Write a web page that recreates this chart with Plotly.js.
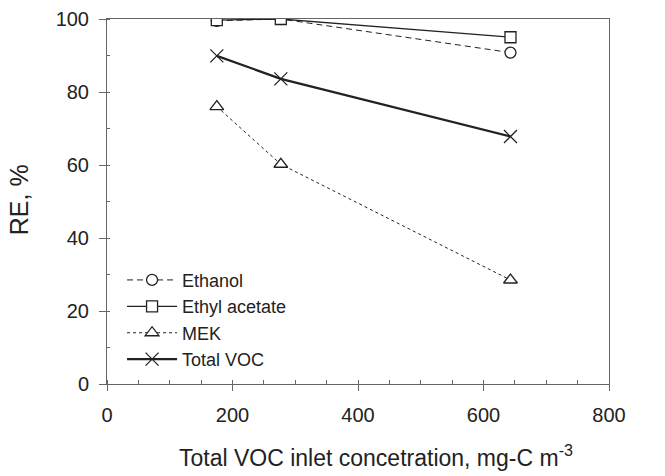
<!DOCTYPE html>
<html><head><meta charset="utf-8">
<script src="https://cdn.plot.ly/plotly-3.0.1.min.js"></script>
<style>html,body{margin:0;padding:0;background:#fff}#chart{width:665px;height:476px}</style>
</head><body><div id="chart"></div>
<script>
var inletConc = [175, 277, 643];
var ethanolRE = [99.5, 100, 90.8];
var ethylAcetateRE = [99.7, 100, 95];
var mekRE = [76, 60.2, 28.5];
var totalVocRE = [89.9, 83.6, 67.8];
var seriesNames = ['Ethanol', 'Ethyl acetate', 'MEK', 'Total VOC'];
var xTicks = [0, 200, 400, 600, 800];
var yTicks = [0, 20, 40, 60, 80, 100];
var xTitle = 'Total VOC inlet concetration, mg-C m<sup>-3</sup>';
var yTitle = 'RE, %';

var ink = '#222';
var traces = [
  {x: inletConc, y: ethanolRE, name: seriesNames[0], mode: 'lines+markers',
   line: {color: ink, width: 1, dash: '6px,4px'},
   marker: {symbol: 'circle', size: 11, color: '#fff', line: {color: ink, width: 1.3}}},
  {x: inletConc, y: ethylAcetateRE, name: seriesNames[1], mode: 'lines+markers',
   line: {color: ink, width: 1.3},
   marker: {symbol: 'square', size: 11, color: '#fff', line: {color: ink, width: 1.3}}},
  {x: inletConc, y: mekRE, name: seriesNames[2], mode: 'lines+markers',
   line: {color: ink, width: 1, dash: 'dot'},
   marker: {symbol: 'triangle-up', size: 12, color: '#fff', line: {color: ink, width: 1.3}}},
  {x: inletConc, y: totalVocRE, name: seriesNames[3], mode: 'lines+markers',
   line: {color: ink, width: 2.2},
   marker: {symbol: 'x-thin-open', size: 13, color: ink, line: {color: ink, width: 1.3}}}
];
traces.push({x: [inletConc[0]], y: [mekRE[0]], xaxis: 'x2', yaxis: 'y2', mode: 'markers',
  marker: {opacity: 0}, showlegend: false, hoverinfo: 'skip'});

var axisCol = '#666';
var font = 'Liberation Sans, Arial, sans-serif';
var layout = {
  width: 665, height: 476,
  margin: {l: 107, r: 56, t: 19, b: 92},
  paper_bgcolor: '#fff', plot_bgcolor: '#fff',
  font: {family: font, color: '#222'},
  showlegend: true,
  legend: {x: 0.03, y: 0.335, xanchor: 'left', yanchor: 'top', bgcolor: 'rgba(0,0,0,0)',
           font: {size: 18, family: font, color: '#222'}, tracegroupgap: 0, itemwidth: 50},
  xaxis: {range: [0, 800], tickvals: xTicks, showgrid: false, zeroline: false,
          showline: true, linecolor: axisCol, linewidth: 1, mirror: true,
          ticks: 'outside', ticklen: 6, tickcolor: axisCol, tickwidth: 1,
          minor: {ticks: 'inside', dtick: 50, ticklen: 4, tickcolor: axisCol, tickwidth: 1, showgrid: false},
          tickfont: {size: 20, family: font, color: '#222'}, ticklabelstandoff: 7},
  yaxis: {range: [0, 100], tickvals: yTicks, showgrid: false, zeroline: false,
          showline: true, linecolor: axisCol, linewidth: 1, mirror: true,
          ticks: 'outside', ticklen: 7, tickcolor: axisCol, tickwidth: 1,
          minor: {ticks: 'inside', dtick: 10, ticklen: 3, tickcolor: axisCol, tickwidth: 1, showgrid: false},
          tickfont: {size: 20, family: font, color: '#222'}, ticklabelstandoff: 6},
  xaxis2: {overlaying: 'x', range: [0, 800], tickvals: [200, 400, 600], ticks: 'inside', ticklen: 4,
           tickcolor: axisCol, showticklabels: false, showgrid: false, zeroline: false, showline: false, side: 'bottom', anchor: 'y'},
  yaxis2: {overlaying: 'y', range: [0, 100], tickvals: [20, 40, 60, 80], ticks: 'inside', ticklen: 3,
           tickcolor: axisCol, showticklabels: false, showgrid: false, zeroline: false, showline: false, side: 'left', anchor: 'x'},
  annotations: [
    {text: xTitle, xref: 'paper', yref: 'paper', x: 0.536, y: -0.197, xanchor: 'center', yanchor: 'middle',
     showarrow: false, font: {size: 23, family: font, color: '#222'}},
    {text: yTitle, xref: 'paper', yref: 'paper', x: -0.175, y: 0.504, xanchor: 'center', yanchor: 'middle',
     textangle: -90, showarrow: false, font: {size: 25, family: font, color: '#222'}}
  ]
};
Plotly.newPlot('chart', traces, layout, {displayModeBar: false, staticPlot: true});
</script></body></html>
